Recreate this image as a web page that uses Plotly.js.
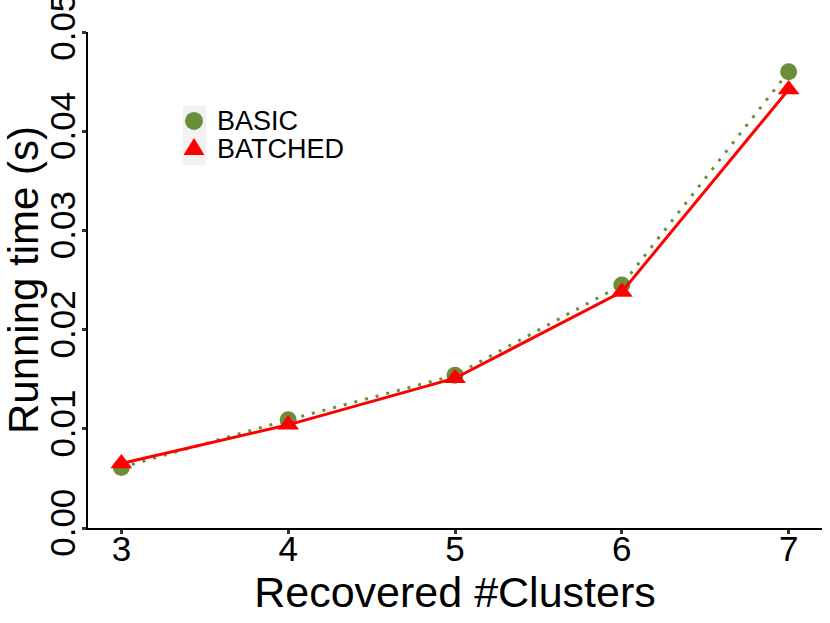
<!DOCTYPE html>
<html>
<head>
<meta charset="utf-8">
<script src="https://cdn.plot.ly/plotly-3.0.1.min.js"></script>
<style>
  body { margin: 0; background: #fff; }
  #plot { width: 830px; height: 623px; }
</style>
</head>
<body>
<div id="plot"></div>
<script>
// recovered cluster counts on the x axis
let clusters = [3, 4, 5, 6, 7];

// running time in seconds
let basicTime = [0.0061, 0.0109, 0.0154, 0.0245, 0.0460];
let batchedTime = [0.0065, 0.0104, 0.0151, 0.0238, 0.0442];

let yTicks = [0, 0.01, 0.02, 0.03, 0.04, 0.05];
let yTickText = ["0.00", "0.01", "0.02", "0.03", "0.04", "0.05"];

let seriesNames = ["BASIC", "BATCHED"];

let green = "#6B8E3A";
let red = "#FF0000";

let basicLine = {
  x: clusters, y: basicTime, mode: "lines+markers", type: "scatter",
  name: seriesNames[0],
  line: {color: green, width: 3, dash: "3px,8px"},
  marker: {color: green, size: 17, symbol: "circle"}
};

let batchedLine = {
  x: clusters, y: batchedTime, mode: "lines+markers", type: "scatter",
  name: seriesNames[1],
  line: {color: red, width: 3},
  marker: {color: red, size: 19, symbol: "triangle-up"}
};

// legend drawn by hand so the rows sit as close as in the original
let keyX = 0.1444;
let keyY = [0.8206, 0.7641];
let textX = 0.1735;

let layout = {
  width: 830, height: 623,
  margin: {l: 88, r: 8, t: 32, b: 95},
  paper_bgcolor: "#fff", plot_bgcolor: "#fff",
  font: {family: "Liberation Sans, Arial, sans-serif", color: "#000"},
  showlegend: false,
  shapes: [
    {type: "rect", xref: "paper", yref: "paper", layer: "below",
     x0: 0.1290, x1: 0.1608, y0: 0.7319, y1: 0.8508,
     fillcolor: "#F2F2F2", line: {width: 0}},
    {type: "circle", xref: "paper", yref: "paper",
     xsizemode: "pixel", ysizemode: "pixel", xanchor: keyX, yanchor: keyY[0],
     x0: -9, x1: 9, y0: -9, y1: 9,
     fillcolor: green, line: {width: 0}},
    {type: "path", xref: "paper", yref: "paper",
     xsizemode: "pixel", ysizemode: "pixel", xanchor: keyX, yanchor: keyY[1],
     path: "M -10.5 -6 L 10.5 -6 L 0 11 Z",
     fillcolor: red, line: {width: 0}}
  ],
  annotations: seriesNames.map((name, i) => ({
    text: name, xref: "paper", yref: "paper", x: textX, y: keyY[i],
    xanchor: "left", yanchor: "middle", showarrow: false,
    font: {size: 27, color: "#000"}
  })),
  xaxis: {
    range: [2.8, 7.2], tickvals: clusters, ticktext: clusters.map(String),
    showgrid: false, zeroline: false,
    showline: true, linecolor: "#000", linewidth: 1.5,
    ticks: "outside", ticklen: 4, tickwidth: 3, tickcolor: "#333",
    ticklabelstandoff: -15,
    tickfont: {size: 35, color: "#000"},
    title: {text: "Recovered #Clusters", font: {size: 43, color: "#000"}, standoff: 0}
  },
  yaxis: {
    range: [0, 0.05], tickvals: yTicks, ticktext: yTickText, tickangle: -90,
    showgrid: false, zeroline: false,
    showline: true, linecolor: "#000", linewidth: 1.5,
    ticks: "outside", ticklen: 4, tickwidth: 3, tickcolor: "#333",
    ticklabelstandoff: -7, ticklabeloverflow: "allow",
    tickfont: {size: 35, color: "#000"},
    title: {text: "Running time (s)", font: {size: 42, color: "#000"}, standoff: 0}
  }
};

Plotly.newPlot("plot", [basicLine, batchedLine], layout, {displayModeBar: false});
</script>
</body>
</html>
